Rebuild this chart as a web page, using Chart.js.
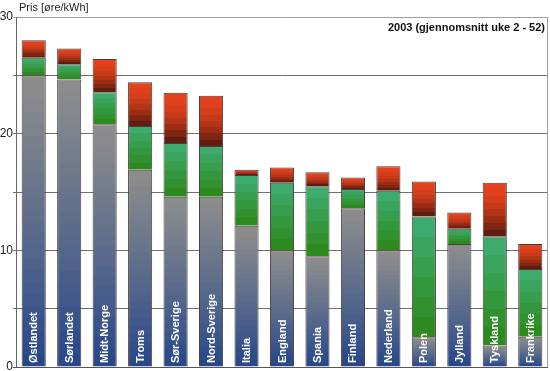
<!DOCTYPE html>
<html>
<head>
<meta charset="utf-8">
<script src="https://cdn.jsdelivr.net/npm/chart.js@4/dist/chart.umd.min.js"></script>
<style>
html,body{margin:0;padding:0;background:#fff;}
#wrap{width:550px;height:371px;position:relative;}
</style>
</head>
<body>
<div id="wrap"><canvas id="c" width="550" height="371"></canvas></div>
<script>
const categories = ['Østlandet','Sørlandet','Midt-Norge','Troms','Sør-Sverige','Nord-Sverige','Italia','England','Spania','Finland','Nederland','Polen','Jylland','Tyskland','Frankrike'];
const grayPart  = [25.0, 24.65, 20.8, 16.9, 14.6, 14.6, 12.1, 10.0, 9.5, 13.6, 10.0, 2.55, 10.55, 1.85, 2.6];
const greenPart = [1.5, 1.3, 2.75, 3.75, 4.6, 4.35, 4.35, 5.8, 6.0, 1.65, 5.1, 10.35, 1.3, 9.35, 5.8];
const redPart   = [1.5, 1.35, 2.85, 3.75, 4.3, 4.3, 0.45, 1.3, 1.2, 1.0, 2.1, 3.0, 1.4, 4.6, 2.15];
const yTickLabels = [0, 10, 20, 30];
const yAxisTitle = 'Pris [øre/kWh]';
const chartTitle = '2003 (gjennomsnitt uke 2 - 52)';

const seriesList = [grayPart, greenPart, redPart];
const palettes = [
  {top:[140,140,140], bottom:[40,72,138], bands:24, gamma:1.1},
  {top:[62,171,110], bottom:[44,138,30], bands:6, gamma:1.0},
  {top:[228,66,28], bottom:[96,28,14], bands:8, gamma:1.8}
];

function mix(a,b,t){
  return 'rgb(' + a.map((v,k)=>Math.round(v+(b[k]-v)*t)).join(',') + ')';
}

function segFill(c){
  const chart = c.chart;
  const pal = palettes[c.datasetIndex];
  if (!chart.chartArea || !chart.scales || !chart.scales.y || c.type !== 'data') return mix(pal.top, pal.bottom, 0.5);
  const i = c.dataIndex, d = c.datasetIndex;
  let base = 0;
  for (let k = 0; k < d; k++) base += seriesList[k][i];
  const top = base + seriesList[d][i];
  const ys = chart.scales.y;
  const y0 = ys.getPixelForValue(base), y1 = ys.getPixelForValue(top);
  if (!isFinite(y0) || !isFinite(y1) || Math.abs(y0 - y1) < 0.5) return mix(pal.top, pal.bottom, 0.5);
  const g = chart.ctx.createLinearGradient(0, y1, 0, y0);
  const n = pal.bands;
  for (let b = 0; b < n; b++) {
    const t = Math.pow(b/(n-1), pal.gamma);
    const col = mix(pal.top, pal.bottom, t);
    g.addColorStop(b/n, col);
    g.addColorStop(Math.min(1,(b+1)/n - 0.0001), col);
  }
  return g;
}

const decor = {
  id: 'decor',
  beforeDatasetsDraw(chart){
    const {ctx, chartArea:a} = chart;
    ctx.save();
    ctx.strokeStyle = '#a0a0a0';
    ctx.lineWidth = 1;
    ctx.beginPath();
    ctx.moveTo(Math.round(a.right)-0.5, a.top);
    ctx.lineTo(Math.round(a.right)-0.5, a.bottom);
    ctx.stroke();
    ctx.restore();
  },
  afterDatasetsDraw(chart){
    const {ctx, chartArea:a} = chart;
    const xs = chart.scales.x;
    ctx.save();
    ctx.fillStyle = '#ffffff';
    ctx.font = 'bold 11px "Liberation Sans", Arial, sans-serif';
    ctx.textAlign = 'left';
    ctx.textBaseline = 'middle';
    categories.forEach((name, i) => {
      const x = xs.getPixelForValue(i);
      ctx.save();
      ctx.translate(x, a.bottom - 4);
      ctx.rotate(-Math.PI/2);
      ctx.fillText(name, 0, 0.5);
      ctx.restore();
    });
    ctx.strokeStyle = '#555';
    ctx.lineWidth = 1;
    ctx.beginPath();
    ctx.moveTo(a.left, Math.round(a.bottom) + 0.5);
    ctx.lineTo(a.right, Math.round(a.bottom) + 0.5);
    ctx.stroke();
    ctx.restore();
  },
  afterDraw(chart){
    const {ctx, chartArea:a} = chart;
    ctx.save();
    ctx.fillStyle = '#222';
    ctx.font = '11px "Liberation Sans", Arial, sans-serif';
    ctx.textAlign = 'left';
    ctx.textBaseline = 'alphabetic';
    ctx.fillText(yAxisTitle, 19, 11);
    ctx.fillStyle = '#111';
    ctx.font = 'bold 11px "Liberation Sans", Arial, sans-serif';
    ctx.textAlign = 'right';
    ctx.fillText(chartTitle, a.right - 3, 31);
    ctx.restore();
  }
};

new Chart(document.getElementById('c'), {
  type: 'bar',
  data: {
    labels: categories,
    datasets: [
      {label:'Del 1', data: grayPart},
      {label:'Del 2', data: greenPart},
      {label:'Del 3', data: redPart}
    ].map(ds => Object.assign(ds, {
      backgroundColor: segFill,
      borderColor: '#4a3e38',
      borderWidth: 1,
      barPercentage: 0.68,
      categoryPercentage: 1.0
    }))
  },
  options: {
    responsive: false,
    animation: false,
    devicePixelRatio: 1,
    layout: {autoPadding: false, padding: {top: 17, right: 2, bottom: 4, left: 0}},
    plugins: {legend: {display: false}, tooltip: {enabled: false}, title: {display: false}},
    scales: {
      x: {
        display: false,
        stacked: true
      },
      y: {
        stacked: true,
        min: 0,
        max: 30,
        ticks: {
          stepSize: 5,
          padding: 0,
          color: '#222',
          font: {size: 12, family: '"Liberation Sans", Arial, sans-serif'},
          callback: v => yTickLabels.includes(v) ? String(v) : ''
        },
        grid: {
          drawTicks: true,
          tickLength: 3,
          lineWidth: 1,
          color: c => c.tick && c.tick.value === 0 ? '#555' : (c.tick && c.tick.value === 30 ? '#a0a0a0' : '#707070')
        },
        border: {display: true, color: '#666', width: 1},
        afterFit(s){ s.width = 16; s.paddingTop = 0; s.paddingBottom = 0; }
      }
    }
  },
  plugins: [decor]
});
</script>
</body>
</html>
